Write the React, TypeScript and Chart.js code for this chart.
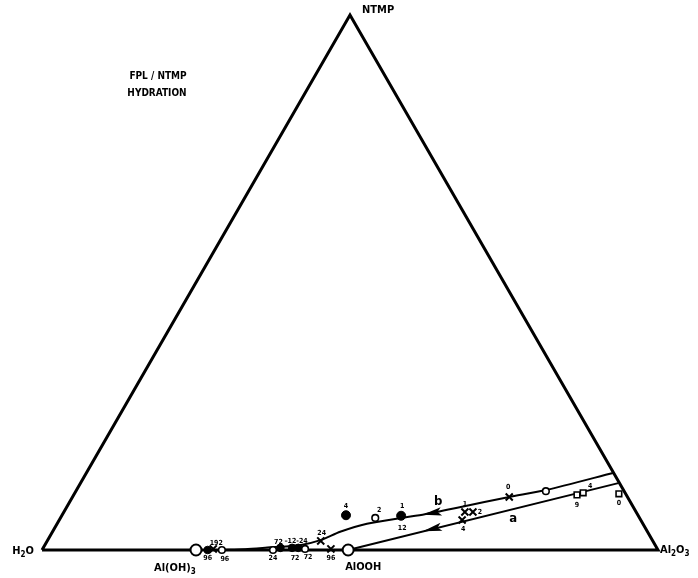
import React, { useEffect, useRef } from "react";
import { Chart, registerables } from "chart.js";

Chart.register(...registerables);

// Compositions in mol %: [Al2O3, NTMP]; the rest is H2O
const triangleAl = [0, 100, 0, 0];
const triangleNtmp = [0, 0, 100, 0];

// curve b (upper)
const lineBAl = [85.5, 76.2, 70.9, 63.8, 58.8, 55.3, 50.3, 46.7, 44.4, 41.4, 36.8, 32.9, 29.2];
const lineBNtmp = [14.4, 11.2, 9.9, 8.0, 6.7, 6.0, 4.9, 3.4, 1.9, 0.9, 0.5, 0.15, 0];
// curve a (lower)
const lineAAl = [87.3, 49.7];
const lineANtmp = [12.5, 0];

// reference phases
const phaseNames = ["Al(OH)3", "AlOOH"];
const phaseAl = [25.0, 49.7];
const phaseNtmp = [0, 0];

const openCircleAl = [29.2, 37.5, 42.6, 51.1, 76.3];
const openCircleNtmp = [0, 0, 0.2, 6.0, 11.0];

const filledCircleAl = [26.9, 38.5, 40.4, 41.4];
const filledCircleNtmp = [0, 0.4, 0.4, 0.4];
const bigFilledAl = [46.1, 55.1];
const bigFilledNtmp = [6.5, 6.4];

const crossAl = [27.7, 44.4, 46.8, 65.4, 65.1, 66.4, 70.9];
const crossNtmp = [0.2, 1.7, 0.2, 5.6, 7.1, 7.1, 9.9];

const squareAl = [81.7, 82.5, 88.4];
const squareNtmp = [10.3, 10.7, 10.5];

// time tags (hours) next to points
const tagTexts = ["96", "192", "96", "24", "72", "\u201312-24", "72", "72", "24", "96", "4", "2", "1", "12", "0", "1", "2", "4", "9", "4", "0"];
const tagAl = [26.9, 27.7, 29.2, 37.5, 38.5, 40.4, 40.4, 42.6, 44.4, 46.8, 46.1, 51.1, 55.1, 55.1, 70.9, 65.1, 66.4, 65.4, 81.7, 82.5, 88.4];
const tagNtmp = [0, 0.2, 0, 0, 0.4, 0.4, 0.4, 0.2, 1.7, 0.2, 6.5, 6.0, 6.4, 6.4, 9.9, 7.1, 7.1, 5.6, 10.3, 10.7, 10.5];
// pixel offsets of the tags (style)
const tagDx = [0, 3, 3, 0, -2, 4, 3, 3, 1, 0, 0, 4, 1, 1, -1, 0, 7, 1, 0, 7, 0];
const tagDy = [8, -6, 9, 8, -6, -7, 10, 8, -8, 9, -9, -8, -10, 12, -10, -8, 0, 9, 10, -7, 9];

const curveNames = ["b", "a"];
const curveNameAl = [59.8, 73.6];
const curveNameNtmp = [9.0, 5.8];

// arrow tips on the curves
const arrowTipAl = [58.5, 60.1];
const arrowTipNtmp = [6.6, 3.5];

const titleLines = ["FPL / NTMP", "HYDRATION"];

const toXY = (al: number[], nt: number[]) => al.map((a, i) => ({ x: a + nt[i] / 2, y: nt[i] }));

const FONT = "'DejaVu Sans Condensed', 'DejaVu Sans', sans-serif";

function drawRich(ctx: CanvasRenderingContext2D, parts: [string, boolean][], x: number, y: number, size: number, align: "left" | "center") {
  const subSize = Math.round(size * 0.75);
  let total = 0;
  for (const [t, sub] of parts) {
    ctx.font = `bold ${sub ? subSize : size}px ${FONT}`;
    total += ctx.measureText(t).width;
  }
  let cx = align === "center" ? x - total / 2 : x;
  ctx.textAlign = "left";
  ctx.textBaseline = "middle";
  for (const [t, sub] of parts) {
    ctx.font = `bold ${sub ? subSize : size}px ${FONT}`;
    ctx.fillText(t, cx, sub ? y + 4 : y);
    cx += ctx.measureText(t).width;
  }
}

const overlayPlugin = {
  id: "overlay",
  afterDatasetsDraw(chart: any) {
    const ctx: CanvasRenderingContext2D = chart.ctx;
    const xs = chart.scales.x;
    const ys = chart.scales.y;
    const P = (a: number, n: number) => [xs.getPixelForValue(a + n / 2), ys.getPixelForValue(n)];
    ctx.save();
    ctx.fillStyle = "#000";

    // arrows
    const dirs = [
      [P(lineBAl[3], lineBNtmp[3]), P(lineBAl[5], lineBNtmp[5])],
      [P(lineAAl[0], lineANtmp[0]), P(lineAAl[1], lineANtmp[1])],
    ];
    arrowTipAl.forEach((a, i) => {
      const [tx, ty] = P(a, arrowTipNtmp[i]);
      const [p0, p1] = dirs[i];
      let dx = p1[0] - p0[0];
      let dy = p1[1] - p0[1];
      const len = Math.hypot(dx, dy);
      dx /= len;
      dy /= len;
      const L = 19;
      const w = 4.2;
      const bx = tx - dx * L;
      const by = ty - dy * L;
      const nx = tx - dx * (L - 4);
      const ny = ty - dy * (L - 4);
      ctx.beginPath();
      ctx.moveTo(tx, ty);
      ctx.lineTo(bx - dy * w, by + dx * w);
      ctx.lineTo(nx, ny);
      ctx.lineTo(bx + dy * w, by - dx * w);
      ctx.closePath();
      ctx.fill();
    });

    // tags
    ctx.font = `bold 7px ${FONT}`;
    ctx.textAlign = "center";
    ctx.textBaseline = "middle";
    tagTexts.forEach((t, i) => {
      const [x, y] = P(tagAl[i], tagNtmp[i]);
      ctx.fillText(t, x + tagDx[i], y + tagDy[i]);
    });

    // curve names
    ctx.font = `bold 13px ${FONT}`;
    curveNames.forEach((t, i) => {
      const [x, y] = P(curveNameAl[i], curveNameNtmp[i]);
      ctx.fillText(t, x, y);
    });

    // vertex labels
    const [hx, hy] = P(triangleAl[0], triangleNtmp[0]);
    drawRich(ctx, [["H", false], ["2", true], ["O", false]], hx - 19, hy + 1, 11, "center");
    const [ax, ay] = P(triangleAl[1], triangleNtmp[1]);
    drawRich(ctx, [["Al", false], ["2", true], ["O", false], ["3", true]], ax + 2, ay, 11, "left");
    const [nx, ny] = P(triangleAl[2], triangleNtmp[2]);
    drawRich(ctx, [["NTMP", false]], nx + 12, ny - 5, 11, "left");

    // phase labels
    const [p1x, p1y] = P(phaseAl[0], phaseNtmp[0]);
    drawRich(ctx, [["Al(OH)", false], ["3", true]], p1x - 42, p1y + 18, 11, "left");
    const [p2x, p2y] = P(phaseAl[1], phaseNtmp[1]);
    drawRich(ctx, [[phaseNames[1], false]], p2x - 3, p2y + 17, 11, "left");

    // title
    const ca = chart.chartArea;
    drawRich(ctx, [[titleLines[0], false]], ca.left + 116, ca.top + 61, 10, "center");
    drawRich(ctx, [[titleLines[1], false]], ca.left + 115, ca.top + 78, 10, "center");

    ctx.restore();
  },
};

export default function App() {
  const ref = useRef<HTMLCanvasElement | null>(null);
  useEffect(() => {
    if (!ref.current) return;
    const black = "#000";
    const chart = new Chart(ref.current, {
      type: "scatter",
      data: {
        datasets: [
          {
            label: "phases",
            data: toXY(phaseAl, phaseNtmp),
            pointStyle: "circle",
            pointRadius: 5.5,
            backgroundColor: "#fff",
            borderColor: black,
            borderWidth: 2,
            clip: false,
            order: 0,
          },
          {
            label: "open circles",
            data: toXY(openCircleAl, openCircleNtmp),
            pointStyle: "circle",
            pointRadius: 3.3,
            backgroundColor: "#fff",
            borderColor: black,
            borderWidth: 1.6,
            clip: false,
            order: 0,
          },
          {
            label: "filled circles",
            data: toXY(filledCircleAl, filledCircleNtmp),
            pointStyle: "circle",
            pointRadius: 3.8,
            backgroundColor: black,
            borderColor: black,
            borderWidth: 1,
            clip: false,
            order: 0,
          },
          {
            label: "filled circles (large)",
            data: toXY(bigFilledAl, bigFilledNtmp),
            pointStyle: "circle",
            pointRadius: 4.5,
            backgroundColor: black,
            borderColor: black,
            borderWidth: 1,
            clip: false,
            order: 0,
          },
          {
            label: "crosses",
            data: toXY(crossAl, crossNtmp),
            pointStyle: "crossRot",
            pointRadius: 5,
            backgroundColor: black,
            borderColor: black,
            borderWidth: 2,
            clip: false,
            order: 0,
          },
          {
            label: "squares",
            data: toXY(squareAl, squareNtmp),
            pointStyle: "rect",
            pointRadius: 4,
            backgroundColor: "#fff",
            borderColor: black,
            borderWidth: 1.6,
            clip: false,
            order: 0,
          },
          {
            label: "b",
            data: toXY(lineBAl, lineBNtmp),
            showLine: true,
            pointRadius: 0,
            borderColor: black,
            borderWidth: 2,
            tension: 0.25,
            clip: false,
            order: 1,
          },
          {
            label: "a",
            data: toXY(lineAAl, lineANtmp),
            showLine: true,
            pointRadius: 0,
            borderColor: black,
            borderWidth: 2,
            clip: false,
            order: 1,
          },
          {
            label: "triangle",
            data: toXY(triangleAl, triangleNtmp),
            showLine: true,
            pointRadius: 0,
            borderColor: black,
            borderWidth: 3,
            borderJoinStyle: "miter",
            clip: false,
            order: 2,
          } as any,
        ],
      },
      options: {
        animation: false,
        responsive: false,
        layout: { padding: { left: 42, right: 40, top: 15, bottom: 28 } },
        scales: {
          x: { type: "linear", min: 0, max: 100, display: false },
          y: { type: "linear", min: 0, max: 100, display: false },
        },
        plugins: { legend: { display: false }, tooltip: { enabled: false } },
        events: [],
      },
      plugins: [overlayPlugin],
    });
    return () => chart.destroy();
  }, []);
  return (
    <div style={{ position: "fixed", left: 0, top: 0, width: 698, height: 578, background: "#fff" }}>
      <canvas ref={ref} width={698} height={578} style={{ display: "block" }} />
    </div>
  );
}
